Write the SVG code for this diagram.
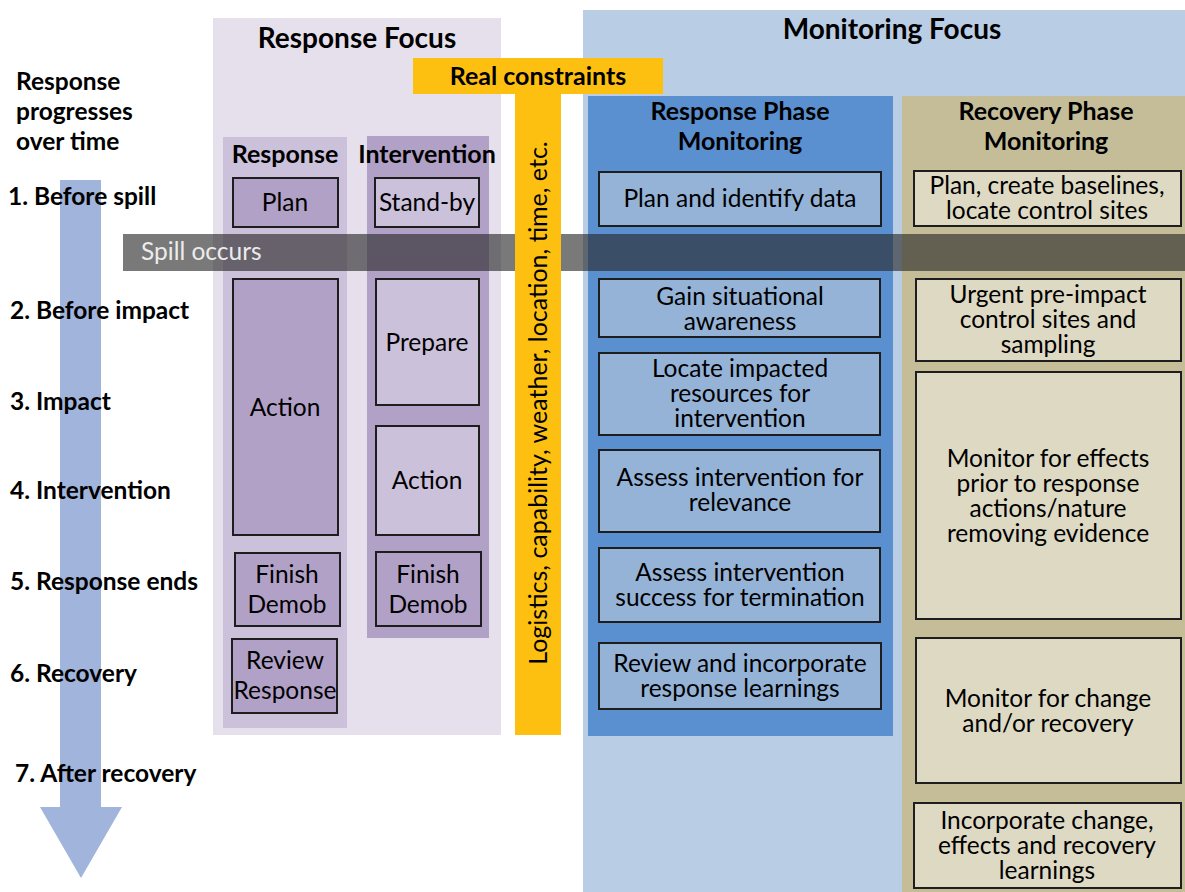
<svg xmlns="http://www.w3.org/2000/svg" width="1185" height="892" viewBox="0 0 1185 892">
<style>
text{font-family:Lato,"Open Sans","Liberation Sans",sans-serif;fill:#000}
.h{font-weight:bold;font-size:28px;text-anchor:middle}
.h2{font-weight:bold;font-size:25px;text-anchor:middle}
.lbl{font-weight:bold;font-size:24.5px}
.t{font-size:24.5px;text-anchor:middle}
.bx{stroke:#1e1e1e;stroke-width:2}
.rb{fill:#b2a1c7}
.ib{fill:#ccc1da}
.pb{fill:#95b3d7}
.cb{fill:#ddd9c3}
</style>
<rect width="1185" height="892" fill="#fff"/>
<g id="monitoring-focus">
<rect x="583" y="10" width="602" height="882" fill="#b9cde5"/>
<text class="h" x="892" y="39">Monitoring Focus</text>
</g>
<g id="response-focus">
<rect x="213" y="18" width="288" height="717" fill="#e6e0ec"/>
<text class="h" x="357" y="48">Response Focus</text>
</g>
<g id="time-arrow">
<path d="M60 180 H101 V807 H122 L81 878 L40 807 H60 Z" fill="#a0b4dc"/>
<text class="lbl" x="16" y="90">Response</text>
<text class="lbl" x="16" y="120">progresses</text>
<text class="lbl" x="16" y="150">over time</text>
<text class="lbl" x="8" y="205">1. Before spill</text>
<text class="lbl" x="10" y="319">2. Before impact</text>
<text class="lbl" x="10" y="410">3. Impact</text>
<text class="lbl" x="10" y="499">4. Intervention</text>
<text class="lbl" x="10" y="590">5. Response ends</text>
<text class="lbl" x="10" y="682">6. Recovery</text>
<text class="lbl" x="15" y="782">7. After recovery</text>
</g>
<g id="response-column">
<rect x="223" y="137" width="124" height="591" fill="#ccc1da"/>
<text class="h2" x="285" y="163">Response</text>
</g>
<g id="intervention-column">
<rect x="367" y="136" width="122" height="502" fill="#b2a1c7"/>
<text class="h2" x="427" y="163">Intervention</text>
</g>
<g id="r-plan"><rect class="bx rb" x="233" y="178" width="105" height="49"/><text class="t" x="285" y="211">Plan</text></g>
<g id="r-action"><rect class="bx rb" x="233" y="279" width="105" height="256"/><text class="t" x="285" y="416">Action</text></g>
<g id="r-finish"><rect class="bx rb" x="235" y="553" width="105" height="73"/><text class="t" x="287" y="583">Finish</text><text class="t" x="287" y="613">Demob</text></g>
<g id="r-review"><rect class="bx rb" x="232" y="639" width="105" height="74"/><text class="t" x="285" y="669">Review</text><text class="t" x="285" y="699">Response</text></g>
<g id="i-standby"><rect class="bx ib" x="375" y="178" width="104" height="49"/><text class="t" x="427" y="211">Stand-by</text></g>
<g id="i-prepare"><rect class="bx ib" x="376" y="279" width="103" height="126"/><text class="t" x="427" y="351">Prepare</text></g>
<g id="i-action"><rect class="bx ib" x="376" y="426" width="103" height="109"/><text class="t" x="427" y="489">Action</text></g>
<g id="i-finish"><rect class="bx rb" x="376" y="552" width="105" height="74"/><text class="t" x="428" y="583">Finish</text><text class="t" x="428" y="613">Demob</text></g>
<g id="response-phase">
<rect x="588" y="96" width="305" height="640" fill="#5a8fd0"/>
<text class="h2" x="740" y="120">Response Phase</text>
<text class="h2" x="740" y="150">Monitoring</text>
</g>
<g id="recovery-phase">
<rect x="902" y="96" width="283" height="796" fill="#c4bd97"/>
<text class="h2" x="1046" y="120">Recovery Phase</text>
<text class="h2" x="1046" y="150">Monitoring</text>
</g>
<g id="p1"><rect class="bx pb" x="599" y="172" width="282" height="54"/><text class="t" x="740" y="207">Plan and identify data</text></g>
<g id="p2"><rect class="bx pb" x="599" y="279" width="281" height="58"/><text class="t" x="740" y="305">Gain situational</text><text class="t" x="740" y="330">awareness</text></g>
<g id="p3"><rect class="bx pb" x="599" y="353" width="281" height="82"/><text class="t" x="740" y="377">Locate impacted</text><text class="t" x="740" y="402">resources for</text><text class="t" x="740" y="427">intervention</text></g>
<g id="p4"><rect class="bx pb" x="599" y="450" width="281" height="82"/><text class="t" x="740" y="486">Assess intervention for</text><text class="t" x="740" y="511">relevance</text></g>
<g id="p5"><rect class="bx pb" x="599" y="548" width="281" height="74"/><text class="t" x="740" y="581">Assess intervention</text><text class="t" x="740" y="606">success for termination</text></g>
<g id="p6"><rect class="bx pb" x="599" y="643" width="282" height="66"/><text class="t" x="740" y="672">Review and incorporate</text><text class="t" x="740" y="697">response learnings</text></g>
<g id="c1"><rect class="bx cb" x="914" y="171" width="267" height="55"/><text class="t" x="1047" y="194">Plan, create baselines,</text><text class="t" x="1047" y="219">locate control sites</text></g>
<g id="c2"><rect class="bx cb" x="916" y="279" width="265" height="82"/><text class="t" x="1048" y="303">Urgent pre-impact</text><text class="t" x="1048" y="328">control sites and</text><text class="t" x="1048" y="353">sampling</text></g>
<g id="c3"><rect class="bx cb" x="916" y="372" width="265" height="247"/><text class="t" x="1048" y="467">Monitor for effects</text><text class="t" x="1048" y="492">prior to response</text><text class="t" x="1048" y="517">actions/nature</text><text class="t" x="1048" y="542">removing evidence</text></g>
<g id="c4"><rect class="bx cb" x="916" y="638" width="265" height="145"/><text class="t" x="1048" y="707">Monitor for change</text><text class="t" x="1048" y="732">and/or recovery</text></g>
<g id="c5"><rect class="bx cb" x="914" y="803" width="267" height="85"/><text class="t" x="1047" y="829">Incorporate change,</text><text class="t" x="1047" y="854">effects and recovery</text><text class="t" x="1047" y="879">learnings</text></g>
<g id="spill">
<rect x="123" y="234" width="1062" height="37" fill="#262626" fill-opacity="0.62"/>
<text x="141" y="260" style="font-size:24.5px;fill:#ececec">Spill occurs</text>
</g>
<g id="real-constraints">
<rect x="413" y="58" width="250" height="36" fill="#fdc010"/>
<rect x="515" y="93" width="46" height="642" fill="#fdc010"/>
<text x="538" y="85" style="font-weight:bold;font-size:25px;text-anchor:middle">Real constraints</text>
<text transform="translate(547 403) rotate(-90)" style="font-size:25px;text-anchor:middle">Logistics, capability, weather, location, time, etc.</text>
</g>
<g id="connectors"></g>
</svg>
